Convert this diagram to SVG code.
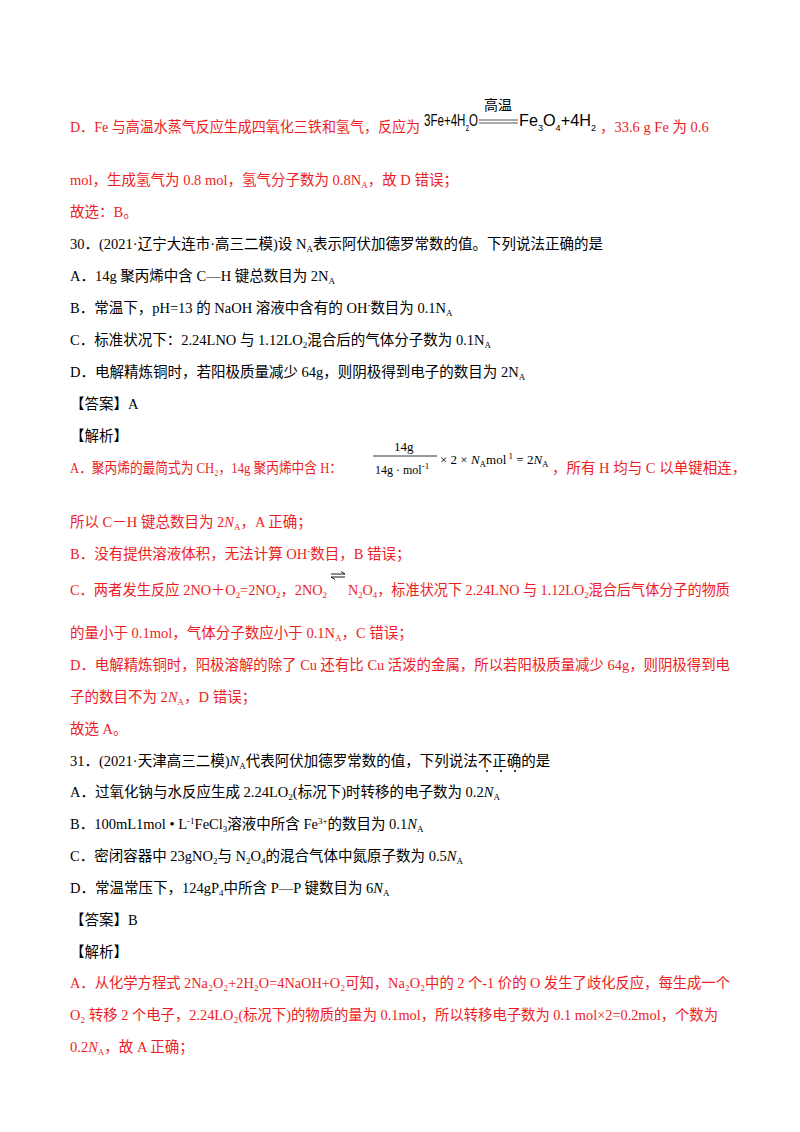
<svg xmlns="http://www.w3.org/2000/svg" width="800" height="1132" viewBox="0 0 800 1132">
<style>
text{font-family:"Liberation Serif","Noto Sans CJK SC",serif;font-size:14.5px;fill:#000}
.r{fill:#ee1c24}
.s{font-family:"Liberation Sans","Noto Sans CJK SC",sans-serif;font-size:16px;fill:#000}
.sub{font-size:9px}
.i{font-style:italic}
</style>
<rect width="800" height="1132" fill="#fff"/>
<text class="r" x="70" y="132" textLength="350" lengthAdjust="spacingAndGlyphs">D．Fe 与高温水蒸气反应生成四氧化三铁和氢气，反应为</text>
<text class="s" x="424" y="126" textLength="54" lengthAdjust="spacingAndGlyphs">3Fe+4H<tspan class="sub" dy="5">2</tspan><tspan dy="-5">O</tspan></text>
<text x="484" y="110" style="font-size:14px">高温</text>
<line x1="479" y1="120" x2="518" y2="120" stroke="#555" stroke-width="1"/>
<line x1="479" y1="123" x2="518" y2="123" stroke="#555" stroke-width="1"/>
<text class="s" x="519" y="126" textLength="77" lengthAdjust="spacingAndGlyphs">Fe<tspan class="sub" dy="5">3</tspan><tspan dy="-5">O</tspan><tspan class="sub" dy="5">4</tspan><tspan dy="-5">+4H</tspan><tspan class="sub" dy="5">2</tspan></text>
<text class="r" x="600" y="132">，33.6 g Fe 为 0.6</text>
<text class="r" x="70" y="185">mol，生成氢气为 0.8 mol，氢气分子数为 0.8N<tspan class="sub" dy="3">A</tspan><tspan dy="-3">，故 D 错误；</tspan></text>
<text class="r" x="70" y="217">故选：B。</text>
<text x="70" y="249">30．(2021·辽宁大连市·高三二模)设 N<tspan class="sub" dy="3">A</tspan><tspan dy="-3">表示阿伏加德罗常数的值。下列说法正确的是</tspan></text>
<text x="70" y="281">A．14g 聚丙烯中含 C—H 键总数目为 2N<tspan class="sub" dy="3">A</tspan></text>
<text x="70" y="313">B．常温下，pH=13 的 NaOH 溶液中含有的 OH<tspan class="sub" dy="-5">-</tspan><tspan dy="5">数目为 0.1N</tspan><tspan class="sub" dy="3">A</tspan></text>
<text x="70" y="345">C．标准状况下：2.24LNO 与 1.12LO<tspan class="sub" dy="3">2</tspan><tspan dy="-3">混合后的气体分子数为 0.1N</tspan><tspan class="sub" dy="3">A</tspan></text>
<text x="70" y="377">D．电解精炼铜时，若阳极质量减少 64g，则阴极得到电子的数目为 2N<tspan class="sub" dy="3">A</tspan></text>
<text x="70" y="409">【答案】A</text>
<text x="70" y="441">【解析】</text>
<text class="r" x="70" y="473" textLength="272" lengthAdjust="spacingAndGlyphs">A．聚丙烯的最简式为 CH₂，14g 聚丙烯中含 H：</text>
<text x="394" y="451" style="font-size:13px">14g</text>
<line x1="373" y1="456" x2="437" y2="456" stroke="#000" stroke-width="0.8"/>
<text x="375" y="474" style="font-size:12px">14g · mol<tspan class="sub" dy="-5">-1</tspan></text>
<text x="440" y="464" style="font-size:13px">× 2 × <tspan class="i">N</tspan><tspan class="sub" dy="3">A</tspan><tspan dy="-3">mol</tspan><tspan class="sub" dy="-5"> 1</tspan><tspan dy="5"> = 2</tspan><tspan class="i">N</tspan><tspan class="sub" dy="3">A</tspan></text>
<text class="r" x="552" y="473">，所有 H 均与 C 以单键相连，</text>
<text class="r" x="70" y="527">所以 C－H 键总数目为 2<tspan class="i">N</tspan><tspan class="sub" dy="3">A</tspan><tspan dy="-3">，A 正确；</tspan></text>
<text class="r" x="70" y="559">B．没有提供溶液体积，无法计算 OH<tspan class="sub" dy="-5">-</tspan><tspan dy="5">数目，B 错误；</tspan></text>
<text class="r" x="70" y="595" textLength="257" lengthAdjust="spacingAndGlyphs">C．两者发生反应 2NO＋O<tspan class="sub" dy="3">2</tspan><tspan dy="-3">=2NO</tspan><tspan class="sub" dy="3">2</tspan><tspan dy="-3">，2NO</tspan><tspan class="sub" dy="3">2</tspan></text>
<path d="M331 574h14l-4-2.5M345 577h-14l4 2.5" fill="none" stroke="#000" stroke-width="0.9"/>
<text class="r" x="348" y="595" textLength="382" lengthAdjust="spacingAndGlyphs">N<tspan class="sub" dy="3">2</tspan><tspan dy="-3">O</tspan><tspan class="sub" dy="3">4</tspan><tspan dy="-3">，标准状况下 2.24LNO 与 1.12LO</tspan><tspan class="sub" dy="3">2</tspan><tspan dy="-3">混合后气体分子的物质</tspan></text>
<text class="r" x="70" y="638">的量小于 0.1mol，气体分子数应小于 0.1N<tspan class="sub" dy="3">A</tspan><tspan dy="-3">，C 错误；</tspan></text>
<text class="r" x="70" y="670" textLength="660" lengthAdjust="spacingAndGlyphs">D．电解精炼铜时，阳极溶解的除了 Cu 还有比 Cu 活泼的金属，所以若阳极质量减少 64g，则阴极得到电</text>
<text class="r" x="70" y="702">子的数目不为 2<tspan class="i">N</tspan><tspan class="sub" dy="3">A</tspan><tspan dy="-3">，D 错误；</tspan></text>
<text class="r" x="70" y="734">故选 A。</text>
<text x="70" y="766">31．(2021·天津高三二模)<tspan class="i">N</tspan><tspan class="sub" dy="3">A</tspan><tspan dy="-3">代表阿伏加德罗常数的值，下列说法不正确的是</tspan></text>
<circle cx="487" cy="771" r="1" fill="#000"/><circle cx="501" cy="771" r="1" fill="#000"/><circle cx="515" cy="771" r="1" fill="#000"/>
<text x="70" y="797">A．过氧化钠与水反应生成 2.24LO<tspan class="sub" dy="3">2</tspan><tspan dy="-3">(标况下)时转移的电子数为 0.2</tspan><tspan class="i">N</tspan><tspan class="sub" dy="3">A</tspan></text>
<text x="70" y="829">B．100mL1mol • L<tspan class="sub" dy="-5">-1</tspan><tspan dy="5">FeCl</tspan><tspan class="sub" dy="3">3</tspan><tspan dy="-3">溶液中所含 Fe</tspan><tspan class="sub" dy="-5">3+</tspan><tspan dy="5">的数目为 0.1</tspan><tspan class="i">N</tspan><tspan class="sub" dy="3">A</tspan></text>
<text x="70" y="861">C．密闭容器中 23gNO<tspan class="sub" dy="3">2</tspan><tspan dy="-3">与 N</tspan><tspan class="sub" dy="3">2</tspan><tspan dy="-3">O</tspan><tspan class="sub" dy="3">4</tspan><tspan dy="-3">的混合气体中氮原子数为 0.5</tspan><tspan class="i">N</tspan><tspan class="sub" dy="3">A</tspan></text>
<text x="70" y="893">D．常温常压下，124gP<tspan class="sub" dy="3">4</tspan><tspan dy="-3">中所含 P—P 键数目为 6</tspan><tspan class="i">N</tspan><tspan class="sub" dy="3">A</tspan></text>
<text x="70" y="925">【答案】B</text>
<text x="70" y="957">【解析】</text>
<text class="r" x="70" y="988" textLength="660" lengthAdjust="spacingAndGlyphs">A．从化学方程式 2Na₂O₂+2H₂O=4NaOH+O₂可知，Na₂O₂中的 2 个-1 价的 O 发生了歧化反应，每生成一个</text>
<text class="r" x="70" y="1020" textLength="648" lengthAdjust="spacingAndGlyphs">O₂ 转移 2 个电子，2.24LO₂(标况下)的物质的量为 0.1mol，所以转移电子数为 0.1 mol×2=0.2mol，个数为</text>
<text class="r" x="70" y="1052">0.2<tspan class="i">N</tspan><tspan class="sub" dy="3">A</tspan><tspan dy="-3">，故 A 正确；</tspan></text>
</svg>
